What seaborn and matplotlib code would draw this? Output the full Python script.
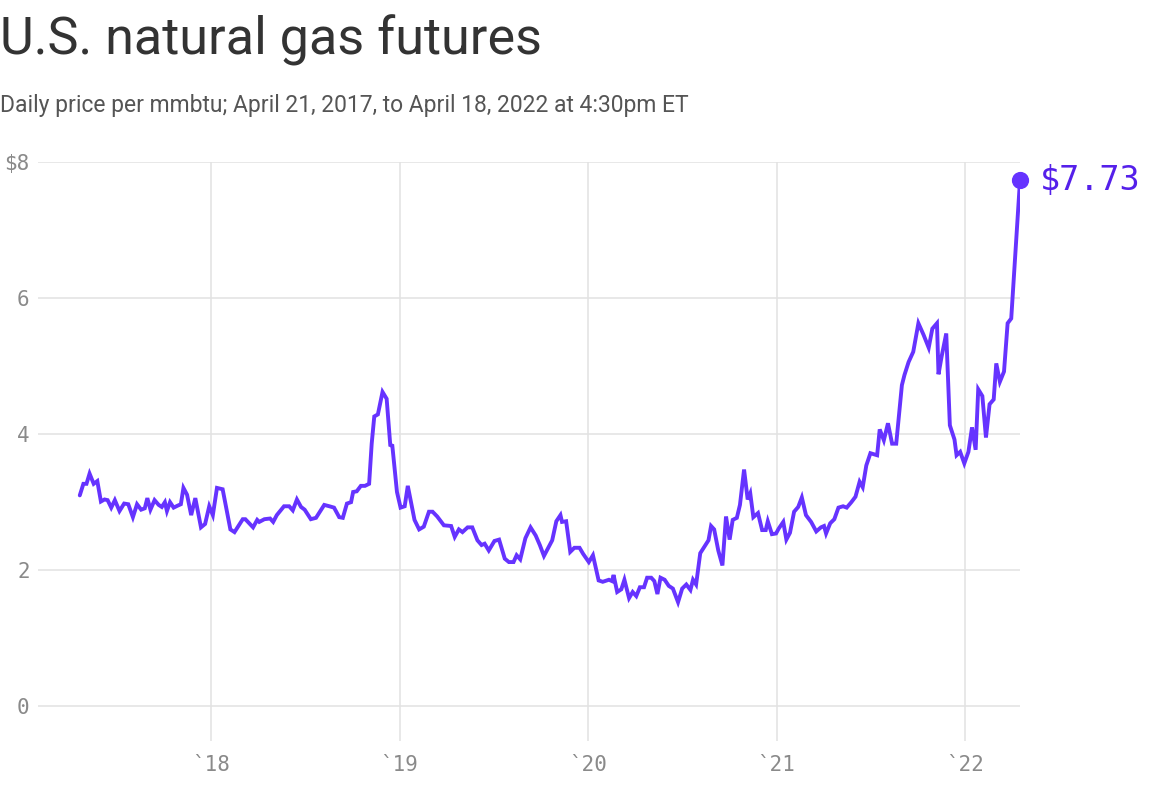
import pandas as pd
import matplotlib.pyplot as plt
import seaborn as sns

# weekly-ish closes
dates = [
    "2017-04-21", "2017-04-28", "2017-05-04", "2017-05-10", "2017-05-18", "2017-05-25",
    "2017-06-01", "2017-06-08", "2017-06-14", "2017-06-21", "2017-06-28", "2017-07-07",
    "2017-07-16", "2017-07-24", "2017-08-02", "2017-08-10", "2017-08-18", "2017-08-25",
    "2017-08-30", "2017-09-05", "2017-09-13", "2017-09-21", "2017-09-27", "2017-10-03",
    "2017-10-07", "2017-10-13", "2017-10-20", "2017-10-28", "2017-11-03", "2017-11-08",
    "2017-11-15", "2017-11-23", "2017-12-01", "2017-12-12", "2017-12-20", "2017-12-28",
    "2018-01-04", "2018-01-12", "2018-01-23", "2018-02-07", "2018-02-15", "2018-03-03",
    "2018-03-08", "2018-03-23", "2018-03-31", "2018-04-04", "2018-04-14", "2018-04-25",
    "2018-05-01", "2018-05-08", "2018-05-22", "2018-06-01", "2018-06-08", "2018-06-16",
    "2018-06-24", "2018-07-01", "2018-07-13", "2018-07-23", "2018-08-08", "2018-08-18",
    "2018-08-27", "2018-09-06", "2018-09-13", "2018-09-21", "2018-09-29", "2018-10-03",
    "2018-10-10", "2018-10-18", "2018-10-26", "2018-11-03", "2018-11-08", "2018-11-13",
    "2018-11-20", "2018-11-29", "2018-12-07", "2018-12-14", "2018-12-18", "2018-12-27",
    "2019-01-03", "2019-01-11", "2019-01-17", "2019-01-30", "2019-02-08", "2019-02-17",
    "2019-02-27", "2019-03-06", "2019-03-15", "2019-03-28", "2019-04-11", "2019-04-18",
    "2019-04-26", "2019-05-03", "2019-05-13", "2019-05-22", "2019-06-01", "2019-06-09",
    "2019-06-15", "2019-06-23", "2019-07-04", "2019-07-13", "2019-07-24", "2019-08-01",
    "2019-08-10", "2019-08-16", "2019-08-23", "2019-09-02", "2019-09-12", "2019-09-22",
    "2019-09-30", "2019-10-08", "2019-10-24", "2019-11-01", "2019-11-09", "2019-11-12",
    "2019-11-20", "2019-11-28", "2019-12-06", "2019-12-16", "2019-12-23", "2020-01-03",
    "2020-01-11", "2020-01-22", "2020-01-30", "2020-02-11", "2020-02-17", "2020-02-20",
    "2020-02-27", "2020-03-06", "2020-03-12", "2020-03-21", "2020-03-28", "2020-04-04",
    "2020-04-11", "2020-04-19", "2020-04-25", "2020-05-03", "2020-05-09", "2020-05-15",
    "2020-05-21", "2020-05-29", "2020-06-06", "2020-06-14", "2020-06-24", "2020-07-02",
    "2020-07-10", "2020-07-18", "2020-07-23", "2020-07-29", "2020-08-06", "2020-08-16",
    "2020-08-22", "2020-08-27", "2020-09-02", "2020-09-10", "2020-09-18", "2020-09-25",
    "2020-10-02", "2020-10-08", "2020-10-16", "2020-10-22", "2020-10-30", "2020-11-06",
    "2020-11-11", "2020-11-17", "2020-11-26", "2020-12-04", "2020-12-11", "2020-12-15",
    "2020-12-23", "2020-12-31", "2021-01-05", "2021-01-14", "2021-01-20", "2021-01-27",
    "2021-02-04", "2021-02-12", "2021-02-19", "2021-02-27", "2021-03-09", "2021-03-19",
    "2021-03-28", "2021-04-03", "2021-04-07", "2021-04-15", "2021-04-23", "2021-05-01",
    "2021-05-10", "2021-05-17", "2021-05-26", "2021-06-03", "2021-06-11", "2021-06-17",
    "2021-06-24", "2021-07-02", "2021-07-15", "2021-07-20", "2021-07-28", "2021-08-05",
    "2021-08-13", "2021-08-21", "2021-09-01", "2021-09-06", "2021-09-14", "2021-09-23",
    "2021-10-03", "2021-10-13", "2021-10-23", "2021-10-30", "2021-11-08", "2021-11-11",
    "2021-11-17", "2021-11-26", "2021-12-03", "2021-12-12", "2021-12-16", "2021-12-23",
    "2021-12-31", "2022-01-08", "2022-01-15", "2022-01-22", "2022-01-27", "2022-02-04",
    "2022-02-11", "2022-02-18", "2022-02-26", "2022-03-03", "2022-03-10", "2022-03-18",
    "2022-03-25", "2022-04-01", "2022-04-18",
]
prices = [
    3.10, 3.27, 3.27, 3.42, 3.27, 3.31,
    3.01, 3.04, 3.03, 2.92, 3.03, 2.87,
    2.98, 2.97, 2.78, 2.97, 2.89, 2.91,
    3.06, 2.89, 3.03, 2.96, 2.93, 3.00,
    2.87, 3.00, 2.92, 2.95, 2.97, 3.21,
    3.11, 2.81, 3.06, 2.63, 2.68, 2.94,
    2.81, 3.21, 3.19, 2.60, 2.56, 2.75,
    2.75, 2.63, 2.74, 2.71, 2.75, 2.76,
    2.71, 2.81, 2.94, 2.94, 2.88, 3.04,
    2.93, 2.89, 2.75, 2.77, 2.96, 2.94,
    2.92, 2.78, 2.77, 2.98, 3.00, 3.15,
    3.16, 3.24, 3.24, 3.27, 3.86, 4.26,
    4.29, 4.62, 4.52, 3.84, 3.83, 3.15,
    2.92, 2.94, 3.24, 2.74, 2.60, 2.64,
    2.86, 2.86, 2.79, 2.66, 2.65, 2.49,
    2.60, 2.56, 2.63, 2.63, 2.44, 2.37,
    2.39, 2.29, 2.43, 2.45, 2.17, 2.12,
    2.12, 2.22, 2.16, 2.47, 2.63, 2.51,
    2.37, 2.21, 2.44, 2.72, 2.81, 2.71,
    2.72, 2.27, 2.33, 2.33, 2.24, 2.12,
    2.22, 1.85, 1.83, 1.86, 1.84, 1.93,
    1.68, 1.72, 1.86, 1.59, 1.68, 1.62,
    1.75, 1.75, 1.89, 1.89, 1.84, 1.65,
    1.89, 1.86, 1.77, 1.73, 1.53, 1.73,
    1.79, 1.71, 1.86, 1.79, 2.25, 2.37,
    2.44, 2.65, 2.60, 2.29, 2.07, 2.79,
    2.45, 2.74, 2.77, 2.96, 3.48, 3.04,
    3.13, 2.78, 2.84, 2.59, 2.59, 2.72,
    2.53, 2.54, 2.61, 2.71, 2.45, 2.55,
    2.86, 2.93, 3.07, 2.81, 2.71, 2.57,
    2.63, 2.65, 2.54, 2.69, 2.75, 2.92,
    2.94, 2.92, 3.00, 3.08, 3.30, 3.22,
    3.54, 3.72, 3.69, 4.07, 3.91, 4.16,
    3.86, 3.86, 4.72, 4.87, 5.06, 5.21,
    5.63, 5.46, 5.27, 5.55, 5.63, 4.88,
    5.14, 5.48, 4.13, 3.92, 3.69, 3.74,
    3.57, 3.74, 4.10, 3.77, 4.66, 4.56,
    3.95, 4.44, 4.51, 5.04, 4.77, 4.92,
    5.63, 5.70, 7.73,
]
y_ticks = [0, 2, 4, 6, 8]
y_labels = ["0", "2", "4", "6", "$8"]
year_ticks = ["2018-01-01", "2019-01-01", "2020-01-01", "2021-01-01", "2022-01-01"]
year_labels = ["`18", "`19", "`20", "`21", "`22"]

df = pd.DataFrame({"date": pd.to_datetime(dates), "price": prices})

line_color = "#6633ff"
label_color = "#5520ea"
grid_color = "#e2e2e2"
mono = ["DejaVu Sans Mono"]

sns.set_theme(style="white")
plt.rcParams["font.family"] = ["Roboto", "DejaVu Sans"]

fig = plt.figure(figsize=(11.54, 7.88), dpi=100)
ax = fig.add_axes([38 / 1154, 1 - 741 / 788, (1020 - 38) / 1154, (741 - 162) / 788])

sns.lineplot(data=df, x="date", y="price", ax=ax, color=line_color, linewidth=2.8,
             solid_joinstyle="miter", zorder=3)

# end point dot and label
last = df.iloc[-1]
ax.scatter([last["date"]], [last["price"]], s=130, color=line_color, zorder=4, clip_on=False)
ax.annotate(f"${last['price']:.2f}", (last["date"], last["price"]), xytext=(14, 0),
            textcoords="offset points", va="center", ha="left", fontsize=24,
            color=label_color, family=mono, annotation_clip=False)

ax.set_xlim(pd.Timestamp("2017-01-30"), pd.Timestamp("2022-04-18"))
ax.set_ylim(-0.51, 8)
ax.set_yticks(y_ticks)
ax.set_yticklabels(y_labels)
ax.set_xticks(pd.to_datetime(year_ticks))
ax.set_xticklabels(year_labels)
ax.set_xlabel("")
ax.set_ylabel("")

ax.grid(True, color=grid_color, linewidth=1.1)
ax.set_axisbelow(True)
for s in ax.spines.values():
    s.set_visible(False)
ax.tick_params(axis="both", length=0)
ax.tick_params(axis="y", pad=6, labelsize=15, labelcolor="#8a8a8a")
ax.tick_params(axis="x", pad=10, labelsize=15, labelcolor="#8a8a8a")
for t in ax.get_xticklabels() + ax.get_yticklabels():
    t.set_family(mono)

fig.text(0.0, 1 - 55 / 788, "U.S. natural gas futures", fontsize=37.5, color="#333333",
         ha="left", va="baseline")
fig.text(0.0, 1 - 112 / 788,
         "Daily price per mmbtu; April 21, 2017, to April 18, 2022 at 4:30pm ET",
         fontsize=16.5, color="#555555", ha="left", va="baseline")

plt.savefig("out.png", dpi=100)
